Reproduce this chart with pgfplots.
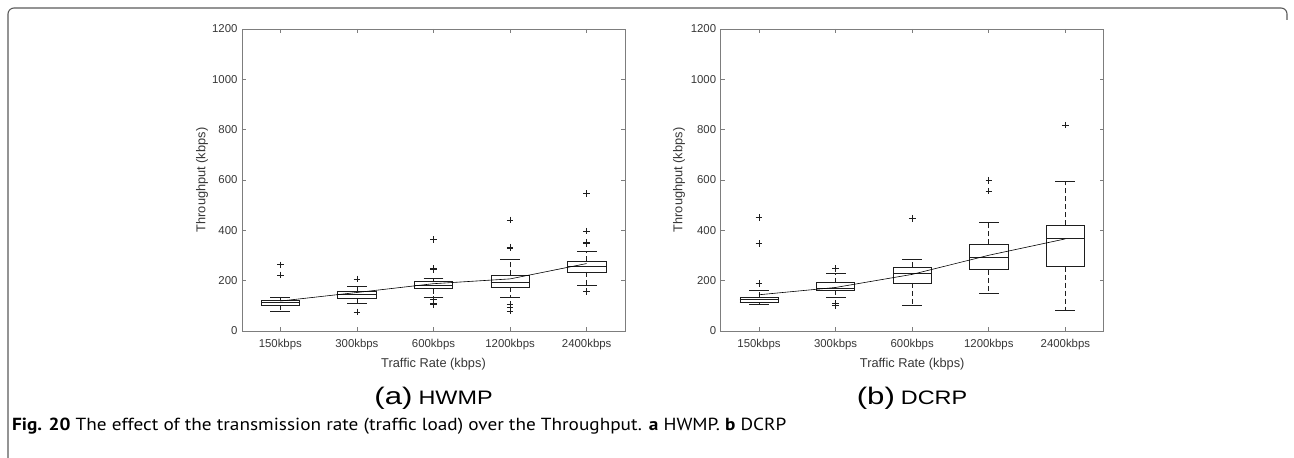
\documentclass[border=0pt]{standalone}
\usepackage{graphicx}
\usepackage{pgfplots}
\pgfplotsset{compat=1.18}
\usepackage{fontspec}
\setmainfont{Liberation Sans}
\newfontfamily\capfont{PT Sans}
\definecolor{axgray}{RGB}{125,125,125}
\definecolor{txtgray}{RGB}{55,55,55}
\definecolor{framegray}{RGB}{90,90,90}
\definecolor{boxcol}{RGB}{30,30,30}

\pgfplotsset{
  myaxis/.style={
    scale only axis, width=383pt, height=302pt,
    xmin=0.5, xmax=5.5, ymin=0, ymax=1200,
    xtick={1,2,3,4,5},
    xticklabels={150kbps,300kbps,600kbps,1200kbps,2400kbps},
    ytick={0,200,400,600,800,1000,1200},
    /pgf/number format/1000 sep={},
    /pgf/number format/assume math mode=true,
    axis line style={axgray, line width=0.8pt},
    every tick/.style={axgray, line width=0.8pt},
    major tick length=4pt,
    tick label style={font=\fontsize{11.4}{13}\selectfont, text=txtgray},
    xticklabel style={yshift=-4.5pt},
    yticklabel style={xshift=-1pt},
    label style={font=\fontsize{12.8}{15}\selectfont, text=txtgray},
    xlabel={Traffic Rate (kbps)},
    ylabel={Throughput (kbps)},
    xlabel style={at={(axis description cs:0.5,-0.109)}, anchor=center},
    ylabel style={at={(axis description cs:-0.104,0.5)}, anchor=center},
    unbounded coords=jump,
  },
  boxs/.style={boxcol, line width=0.7pt, line cap=rect, mark=none},
  whisk/.style={boxcol, line width=0.7pt, dash pattern=on 5pt off 3pt, mark=none},
  outl/.style={boxcol, only marks, mark=+, mark size=3.3pt, mark options={solid, line width=0.7pt}},
}

\begin{document}
\begin{tikzpicture}
\useasboundingbox (0pt,0pt) rectangle (1294pt,458pt);
% frame
\draw[framegray, line width=1.1pt, rounded corners=6pt] (8pt,-2pt) -- (8pt,450pt) -- (1287pt,450pt) -- (1287pt,438pt);

% ---------- (a) HWMP ----------
\begin{axis}[myaxis, at={(242pt,127pt)}, anchor=south west]
% boxes, medians, whisker caps
\addplot[boxs] coordinates {
(0.75,103)(1.25,103)(1.25,121)(0.75,121)(0.75,103)(1,nan)(0.75,113)(1.25,113)(1,nan)(0.875,133)(1.125,133)(1,nan)(0.875,80)(1.125,80)(1,nan)
(1.75,131)(2.25,131)(2.25,157)(1.75,157)(1.75,131)(2,nan)(1.75,147)(2.25,147)(2,nan)(1.875,177)(2.125,177)(2,nan)(1.875,108)(2.125,108)(2,nan)
(2.75,168)(3.25,168)(3.25,196)(2.75,196)(2.75,168)(3,nan)(2.75,181)(3.25,181)(3,nan)(2.875,208)(3.125,208)(3,nan)(2.875,132)(3.125,132)(3,nan)
(3.75,175)(4.25,175)(4.25,221)(3.75,221)(3.75,175)(4,nan)(3.75,192)(4.25,192)(4,nan)(3.875,285)(4.125,285)(4,nan)(3.875,133)(4.125,133)(4,nan)
(4.75,235)(5.25,235)(5.25,277)(4.75,277)(4.75,235)(5,nan)(4.75,257)(5.25,257)(5,nan)(4.875,317)(5.125,317)(5,nan)(4.875,180)(5.125,180)};
% dashed whisker stems
\addplot[whisk] coordinates {
(1,121)(1,133)(1,nan)(1,103)(1,80)(1,nan)(2,157)(2,177)(2,nan)(2,131)(2,108)(2,nan)
(3,196)(3,208)(3,nan)(3,168)(3,132)(3,nan)(4,221)(4,285)(4,nan)(4,175)(4,133)(4,nan)
(5,277)(5,317)(5,nan)(5,235)(5,180)};
% outliers
\addplot[outl] coordinates {
(1,263)(1,223)(2,207)(2,76)(3,363)(3,249)(3,244)(3,127)(3,111)(3,105)
(4,441)(4,333)(4,329)(4,105)(4,95)(4,80)(5,547)(5,397)(5,353)(5,347)(5,156)};
% mean line
\addplot[black, line width=0.6pt, mark=none] coordinates {(1,119) (2,153) (3,188) (4,207) (5,268)};
\end{axis}

% ---------- (b) DCRP ----------
\begin{axis}[myaxis, at={(720.7pt,127pt)}, anchor=south west,
  ylabel style={at={(axis description cs:-0.109,0.5)}, anchor=center}]
\addplot[boxs] coordinates {
(0.75,115)(1.25,115)(1.25,135)(0.75,135)(0.75,115)(1,nan)(0.75,124)(1.25,124)(1,nan)(0.875,163)(1.125,163)(1,nan)(0.875,105)(1.125,105)(1,nan)
(1.75,161)(2.25,161)(2.25,192)(1.75,192)(1.75,161)(2,nan)(1.75,171)(2.25,171)(2,nan)(1.875,229)(2.125,229)(2,nan)(1.875,135)(2.125,135)(2,nan)
(2.75,191)(3.25,191)(3.25,253)(2.75,253)(2.75,191)(3,nan)(2.75,229)(3.25,229)(3,nan)(2.875,284)(3.125,284)(3,nan)(2.875,101)(3.125,101)(3,nan)
(3.75,243)(4.25,243)(4.25,344)(3.75,344)(3.75,243)(4,nan)(3.75,292)(4.25,292)(4,nan)(3.875,432)(4.125,432)(4,nan)(3.875,148)(4.125,148)(4,nan)
(4.75,256)(5.25,256)(5.25,420)(4.75,420)(4.75,256)(5,nan)(4.75,368)(5.25,368)(5,nan)(4.875,593)(5.125,593)(5,nan)(4.875,84)(5.125,84)};
\addplot[whisk] coordinates {
(1,135)(1,163)(1,nan)(1,115)(1,105)(1,nan)(2,192)(2,229)(2,nan)(2,161)(2,135)(2,nan)
(3,253)(3,284)(3,nan)(3,191)(3,101)(3,nan)(4,344)(4,432)(4,nan)(4,243)(4,148)(4,nan)
(5,420)(5,593)(5,nan)(5,256)(5,84)};
\addplot[outl] coordinates {
(1,451)(1,347)(1,189)(2,248)(2,109)(2,102)(3,448)(4,599)(4,556)(5,818)};
\addplot[black, line width=0.6pt, mark=none] coordinates {(1,144) (2,173) (3,225) (4,301) (5,366)};
\end{axis}

% subtitles
\node[anchor=base, inner sep=0] at (433.5pt,53pt) {\scalebox{1.3}[1]{\fontsize{24}{26}\selectfont (a)}\hspace{6pt}\scalebox{1.2}[1]{\fontsize{19.5}{22}\selectfont HWMP}};
\node[anchor=base, inner sep=0] at (912pt,53pt) {\scalebox{1.3}[1]{\fontsize{24}{26}\selectfont (b)}\hspace{6pt}\scalebox{1.2}[1]{\fontsize{19.5}{22}\selectfont DCRP}};

% caption
\node[anchor=base west, inner sep=0] at (12pt,27pt) {\scalebox{1.1}[1]{\capfont\fontsize{17.5}{20}\selectfont \textbf{Fig. 20} The effect of the transmission rate (traffic load) over the Throughput. \textbf{a} HWMP. \textbf{b} DCRP}};
\end{tikzpicture}
\end{document}
